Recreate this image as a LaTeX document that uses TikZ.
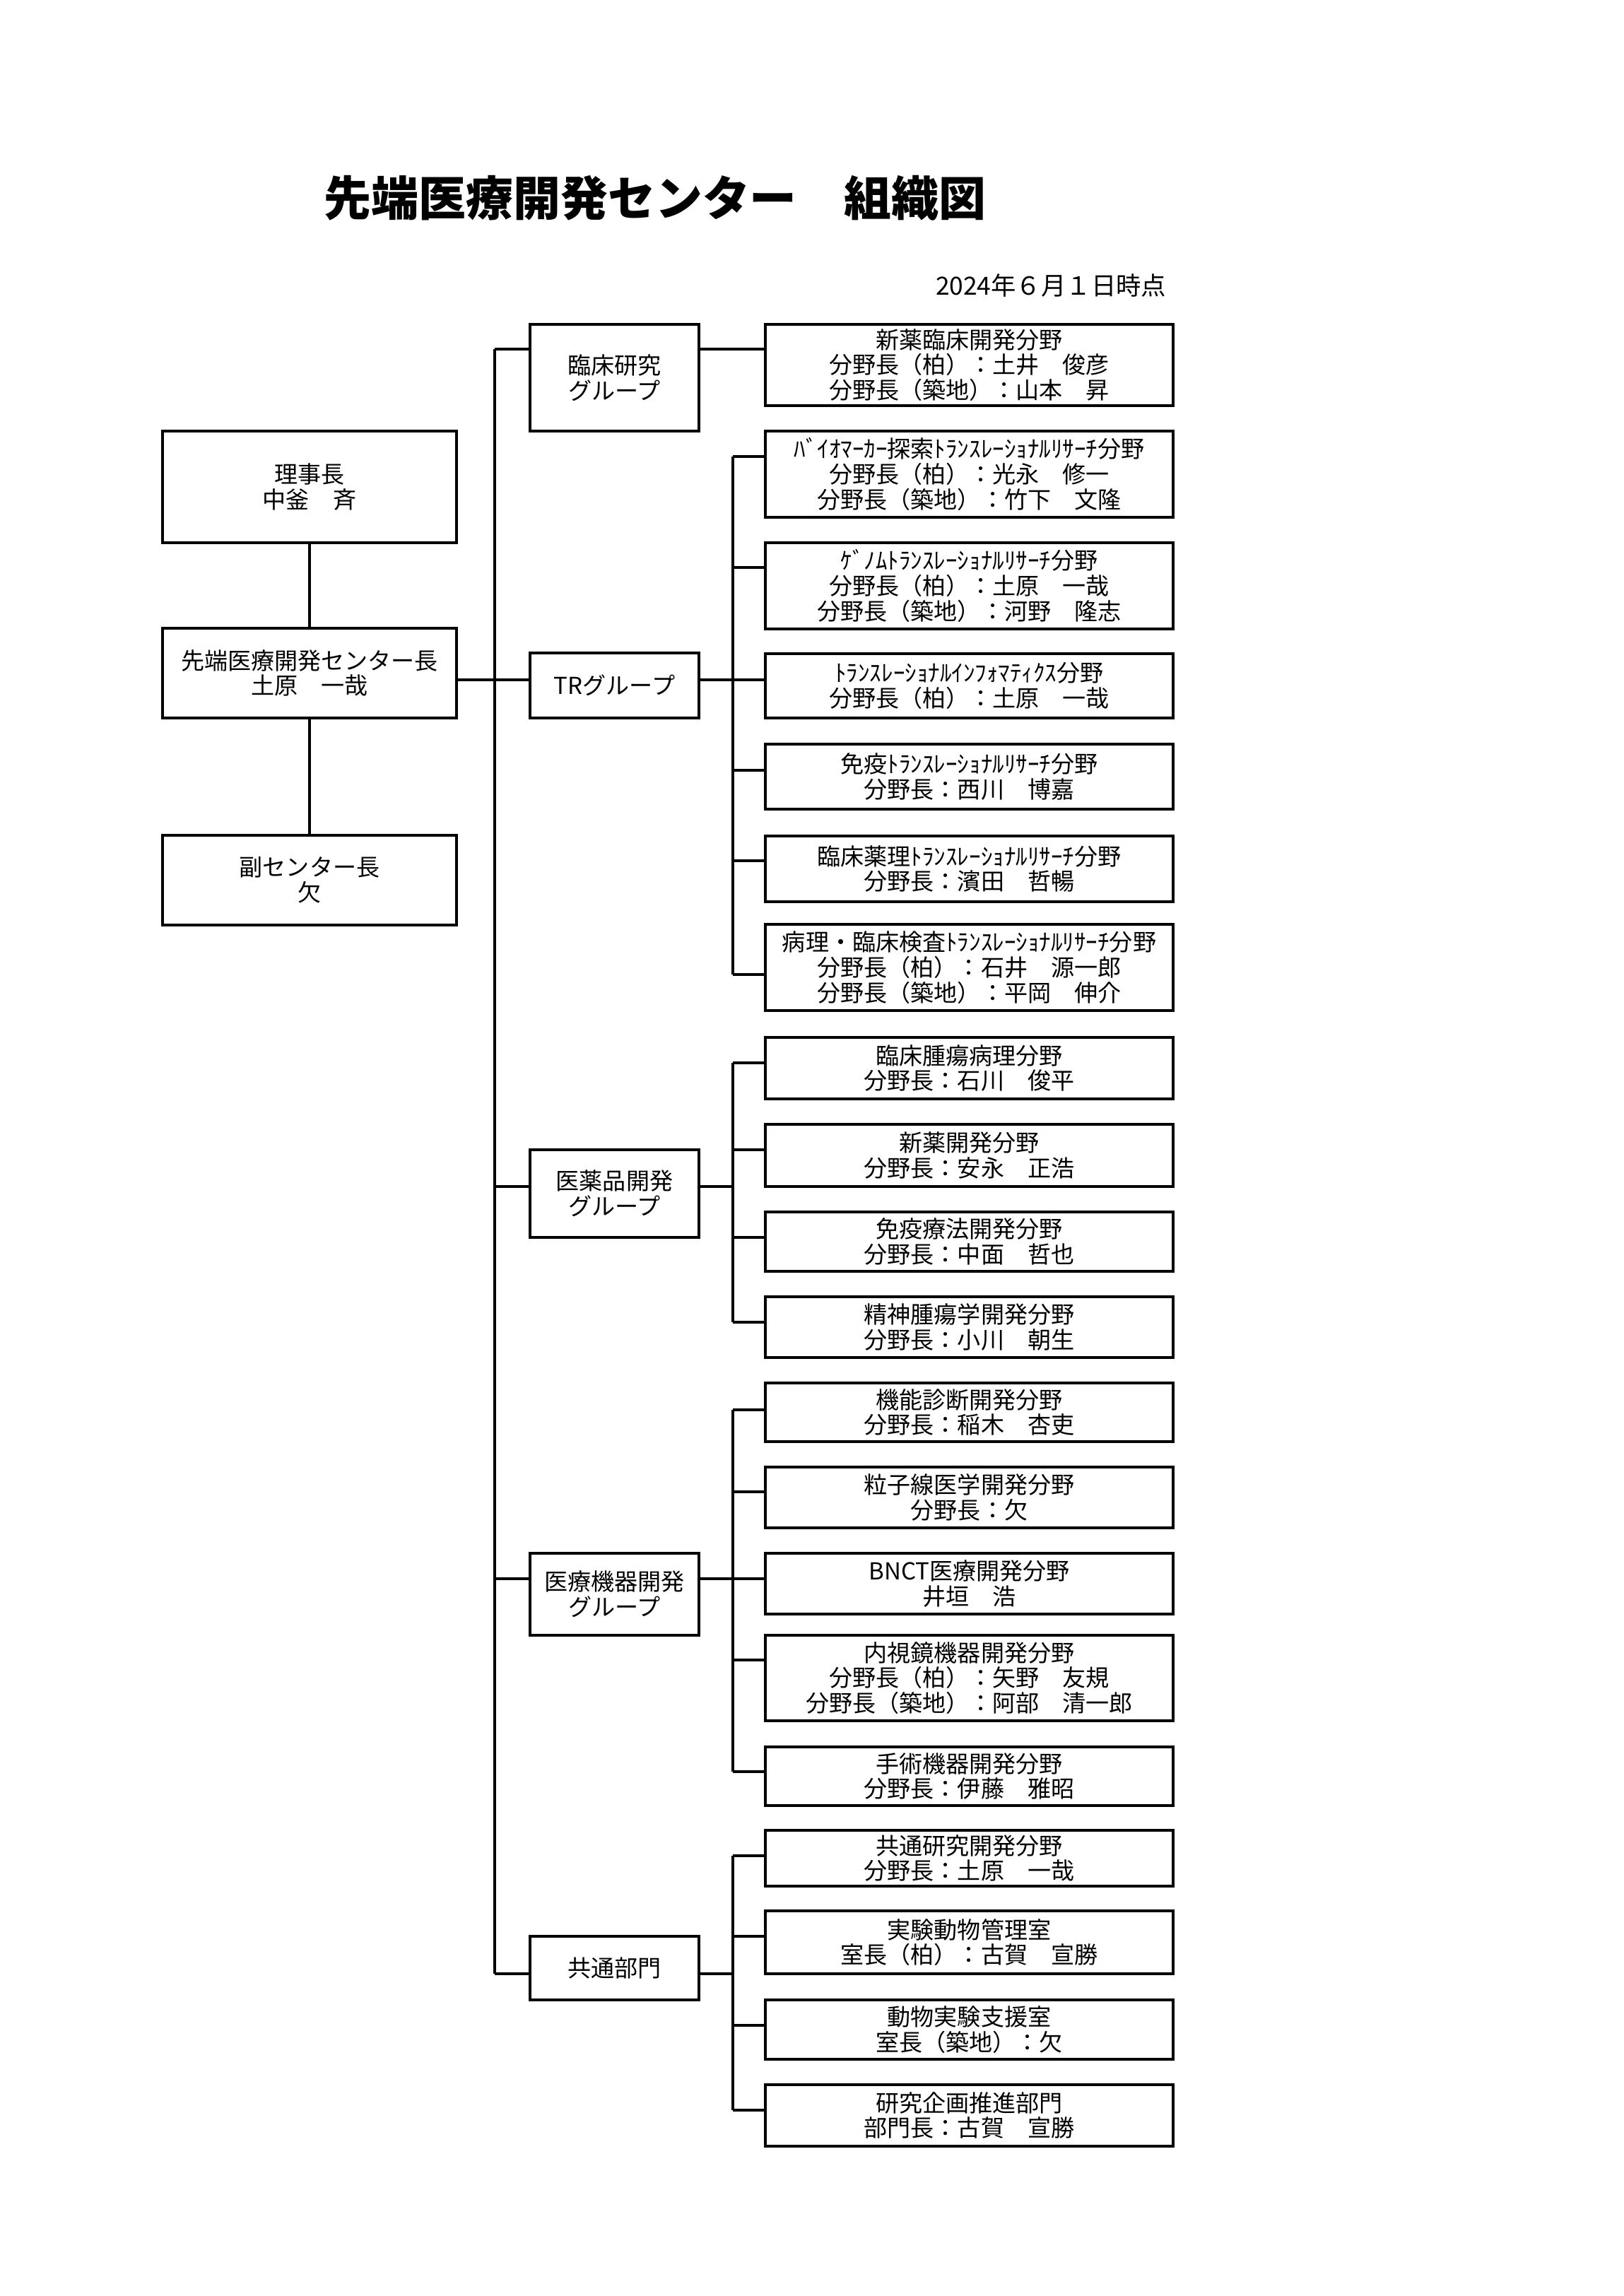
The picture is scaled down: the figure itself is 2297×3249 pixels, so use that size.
\documentclass[tikz,border=0pt]{standalone}
\usepackage{fontspec}
\setmainfont{Noto Sans CJK JP}
\tikzset{
  orgbox/.style={draw, line width=1.1pt, inner sep=0pt, align=center, fill=white,
    font=\fontsize{8.6}{9.3}\selectfont},
  conn/.style={line width=1.1pt},
}
\newcommand\obox[6]{\node[orgbox, minimum width={(#4-#2)*0.0091424cm}, minimum height={(#5-#3)*0.0091424cm}] (#1) at ({(#2+#4)/2},{(#3+#5)/2}) {#6};}
\begin{document}
\begin{tikzpicture}[x=0.0091424cm,y=-0.0091424cm]
\useasboundingbox (0,0) rectangle (2297,3249);
% title and date
\node[anchor=west, inner sep=0pt, font=\fontsize{17.4}{20}\selectfont\bfseries] (title) at (458,280) {先端医療開発センター　組織図};
\node[anchor=east, inner sep=0pt, font=\fontsize{9.2}{10}\selectfont] (date) at (1651,404) {2024年６月１日時点};
% left column
\obox{r1}{230}{610}{646}{768}{理事長\\中釜　斉}
\obox{r2}{230}{889}{646}{1016}{先端医療開発センター長\\土原　一哉}
\obox{r3}{230}{1182}{646}{1309}{副センター長\\欠}
% groups
\obox{g1}{750}{459}{989}{610}{臨床研究\\グループ}
\obox{gTR}{750}{924}{989}{1016}{TRグループ}
\obox{gDrug}{750}{1627}{989}{1751}{医薬品開発\\グループ}
\obox{gDev}{750}{2198}{989}{2314}{医療機器開発\\グループ}
\obox{gCom}{750}{2740}{989}{2830}{共通部門}
% right boxes
\obox{b1}{1083}{459}{1660}{574}{新薬臨床開発分野\\分野長（柏）：土井　俊彦\\分野長（築地）：山本　昇}
\obox{b2}{1083}{610}{1660}{732}{ﾊﾞｲｵﾏｰｶｰ探索ﾄﾗﾝｽﾚｰｼｮﾅﾙﾘｻｰﾁ分野\\分野長（柏）：光永　修一\\分野長（築地）：竹下　文隆}
\obox{b3}{1083}{768}{1660}{890}{ｹﾞﾉﾑﾄﾗﾝｽﾚｰｼｮﾅﾙﾘｻｰﾁ分野\\分野長（柏）：土原　一哉\\分野長（築地）：河野　隆志}
\obox{b4}{1083}{925}{1660}{1016}{ﾄﾗﾝｽﾚｰｼｮﾅﾙｲﾝﾌｫﾏﾃｨｸｽ分野\\分野長（柏）：土原　一哉}
\obox{b5}{1083}{1053}{1660}{1145}{免疫ﾄﾗﾝｽﾚｰｼｮﾅﾙﾘｻｰﾁ分野\\分野長：西川　博嘉}
\obox{b6}{1083}{1183}{1660}{1276}{臨床薬理ﾄﾗﾝｽﾚｰｼｮﾅﾙﾘｻｰﾁ分野\\分野長：濱田　哲暢}
\obox{b7}{1083}{1308}{1660}{1430}{病理・臨床検査ﾄﾗﾝｽﾚｰｼｮﾅﾙﾘｻｰﾁ分野\\分野長（柏）：石井　源一郎\\分野長（築地）：平岡　伸介}
\obox{b8}{1083}{1468}{1660}{1555}{臨床腫瘍病理分野\\分野長：石川　俊平}
\obox{b9}{1083}{1591}{1660}{1679}{新薬開発分野\\分野長：安永　正浩}
\obox{b10}{1083}{1715}{1660}{1799}{免疫療法開発分野\\分野長：中面　哲也}
\obox{b11}{1083}{1835}{1660}{1921}{精神腫瘍学開発分野\\分野長：小川　朝生}
\obox{b12}{1083}{1957}{1660}{2040}{機能診断開発分野\\分野長：稲木　杏吏}
\obox{b13}{1083}{2076}{1660}{2162}{粒子線医学開発分野\\分野長：欠}
\obox{b14}{1083}{2198}{1660}{2284}{BNCT医療開発分野\\井垣　浩}
\obox{b15}{1083}{2314}{1660}{2435}{内視鏡機器開発分野\\分野長（柏）：矢野　友規\\分野長（築地）：阿部　清一郎}
\obox{b16}{1083}{2472}{1660}{2555}{手術機器開発分野\\分野長：伊藤　雅昭}
\obox{b17}{1083}{2590}{1660}{2669}{共通研究開発分野\\分野長：土原　一哉}
\obox{b18}{1083}{2704}{1660}{2793}{実験動物管理室\\室長（柏）：古賀　宣勝}
\obox{b19}{1083}{2830}{1660}{2914}{動物実験支援室\\室長（築地）：欠}
\obox{b20}{1083}{2950}{1660}{3037}{研究企画推進部門\\部門長：古賀　宣勝}
% left connectors
\draw[conn] (r1.south) -- (r2.north);
\draw[conn] (r2.south) -- (r3.north);
% main trunk
\coordinate (m1) at (700,494);
\coordinate (m2) at (700,962);
\coordinate (m3) at (700,1679);
\coordinate (m4) at (700,2234);
\coordinate (m5) at (700,2793);
\draw[conn] (m1) -- (m5);
\draw[conn] (m1) -- (g1.west |- m1);
\draw[conn] (r2.east |- m2) -- (gTR.west |- m2);
\draw[conn] (m3) -- (gDrug.west |- m3);
\draw[conn] (m4) -- (gDev.west |- m4);
\draw[conn] (m5) -- (gCom.west |- m5);
% clinical research group
\draw[conn] (g1.east |- m1) -- (b1.west |- m1);
% TR group
\coordinate (t2) at (1037,646);
\coordinate (t3) at (1037,803);
\coordinate (t4) at (1037,962);
\coordinate (t5) at (1037,1090);
\coordinate (t6) at (1037,1218);
\coordinate (t7) at (1037,1379);
\draw[conn] (t2) -- (t7);
\draw[conn] (gTR.east |- m2) -- (t4);
\foreach \c/\b in {t2/b2,t3/b3,t4/b4,t5/b5,t6/b6,t7/b7}
  \draw[conn] (\c) -- (\b.west |- \c);
% drug group
\coordinate (d8) at (1037,1504);
\coordinate (d9) at (1037,1627);
\coordinate (dg) at (1037,1679);
\coordinate (d10) at (1037,1751);
\coordinate (d11) at (1037,1871);
\draw[conn] (d8) -- (d11);
\draw[conn] (gDrug.east |- m3) -- (dg);
\foreach \c/\b in {d8/b8,d9/b9,d10/b10,d11/b11}
  \draw[conn] (\c) -- (\b.west |- \c);
% device group
\coordinate (e12) at (1037,1995);
\coordinate (e13) at (1037,2111);
\coordinate (e14) at (1037,2234);
\coordinate (e15) at (1037,2349);
\coordinate (e16) at (1037,2507);
\draw[conn] (e12) -- (e16);
\draw[conn] (gDev.east |- m4) -- (e14);
\foreach \c/\b in {e12/b12,e13/b13,e14/b14,e15/b15,e16/b16}
  \draw[conn] (\c) -- (\b.west |- \c);
% common division
\coordinate (c17) at (1037,2626);
\coordinate (c18) at (1037,2740);
\coordinate (cg) at (1037,2793);
\coordinate (c19) at (1037,2866);
\coordinate (c20) at (1037,2986);
\draw[conn] (c17) -- (c20);
\draw[conn] (gCom.east |- m5) -- (cg);
\foreach \c/\b in {c17/b17,c18/b18,c19/b19,c20/b20}
  \draw[conn] (\c) -- (\b.west |- \c);
\end{tikzpicture}
\end{document}
